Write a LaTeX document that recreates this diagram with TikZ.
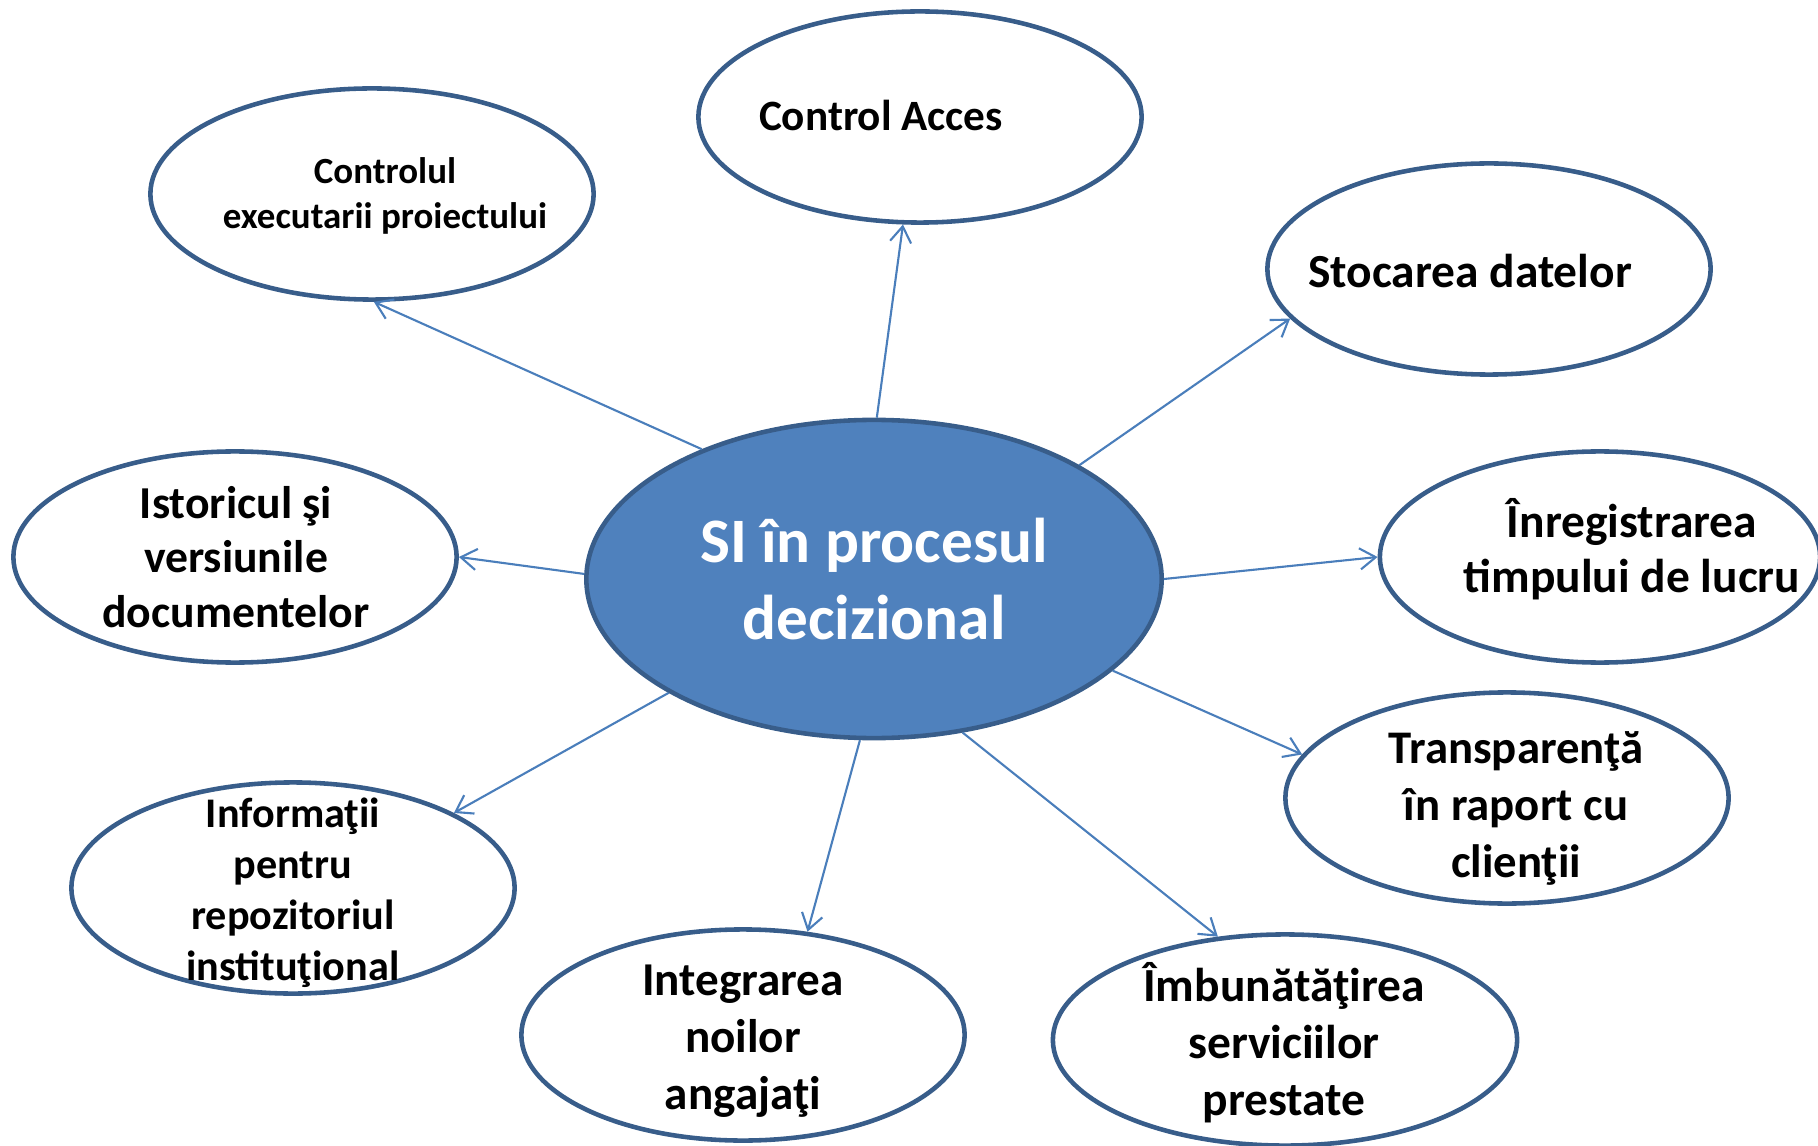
\documentclass[tikz,border=0pt]{standalone}
\usepackage{fontspec}
\setmainfont{Carlito}
\usetikzlibrary{shapes.geometric,arrows.meta}
\definecolor{rimblue}{HTML}{385D8A}
\definecolor{coreblue}{HTML}{4F81BD}
\definecolor{spokeblue}{HTML}{4A7EBB}

\begin{document}
\begin{tikzpicture}[x=0.01cm, y=-0.01cm,
    bubble/.style={ellipse, draw=rimblue, line width=1.3pt, fill=white,
        minimum width=4.43cm, minimum height=2.11cm, inner sep=0pt},
    hub/.style={bubble, fill=coreblue, minimum width=5.75cm, minimum height=3.18cm},
    txt/.style={align=center, inner sep=0pt},
    spoke/.style={-{Straight Barb[length=4.5pt,width=6pt]}, draw=spokeblue, line width=0.6pt}]
    \clip (0,0) rectangle (1818,1146);

    \node[hub, text=white, font=\bfseries\fontsize{18}{22}\selectfont, align=center]
        (si) at (874,579) {SI în procesul\\decizional};

    \node[bubble] (acces) at (920,117) {};
    \node[txt, font=\bfseries\fontsize{12.3}{15}\selectfont] (acces-t) at (881,115) {Control Acces};

    \node[bubble] (ctrl) at (372,194) {};
    \node[txt, font=\bfseries\fontsize{10.5}{12.9}\selectfont] (ctrl-t) at (385,196)
        {Controlul\\executarii proiectului};

    \node[bubble] (stoc) at (1489,269) {};
    \node[txt, font=\bfseries\fontsize{13.5}{16}\selectfont] (stoc-t) at (1470,271) {Stocarea datelor};

    \node[bubble] (istoric) at (235,557) {};
    \node[txt, font=\bfseries\fontsize{13}{15.5}\selectfont] (istoric-t) at (236,557)
        {Istoricul şi\\versiunile\\documentelor};

    \node[bubble, minimum width=4.4cm] (inreg) at (1600,557) {};
    \node[txt, font=\bfseries\fontsize{13.5}{15.8}\selectfont] (inreg-t) at (1632,549)
        {Înregistrarea\\timpului de lucru};

    \node[bubble] (transp) at (1507,798) {};
    \node[txt, font=\bfseries\fontsize{13.3}{16.2}\selectfont] (transp-t) at (1516,808)
        {Transparenţă\\în raport cu\\clienţii};

    \node[bubble] (info) at (293,888) {};
    \node[txt, font=\bfseries\fontsize{12}{14.5}\selectfont] (info-t) at (293,893)
        {Informaţii\\pentru\\repozitoriul\\instituţional};

    \node[bubble] (integr) at (743,1035) {};
    \node[txt, font=\bfseries\fontsize{13.4}{16.2}\selectfont] (integr-t) at (743,1041)
        {Integrarea\\noilor\\angajaţi};

    \node[bubble, minimum width=4.64cm] (imbun) at (1285,1040) {};
    \node[txt, font=\bfseries\fontsize{13.5}{16.2}\selectfont] (imbun-t) at (1284,1043)
        {Îmbunătăţirea\\serviciilor\\prestate};

    % spokes from the hub
    \foreach \a/\b in {89.6/acces.261.2, 143.6/ctrl.271.3, 29.1/stoc.194.2,
                       179.6/istoric.0, 0.6/inreg.180, 339.2/transp.168.8,
                       209.2/info.25.3, 265.1/integr.58.5, 300.5/imbun.123}
        \draw[spoke] (si.\a) -- (\b);
\end{tikzpicture}
\end{document}
